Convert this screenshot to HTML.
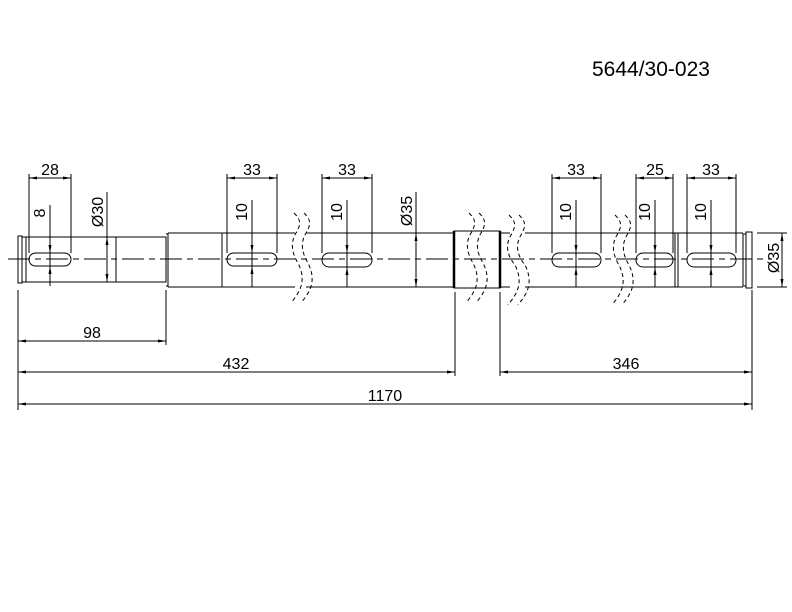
<!DOCTYPE html>
<html><head><style>
body{margin:0;background:#fff}
svg{display:block}
text{font-family:"Liberation Sans",sans-serif;fill:#000}
</style></head><body>
<svg width="792" height="612" viewBox="0 0 792 612" xmlns="http://www.w3.org/2000/svg">
<defs>
<marker id="a" markerWidth="8" markerHeight="4" refX="8" refY="2" orient="auto" markerUnits="userSpaceOnUse"><path d="M0,0.5 L8,2 L0,3.5Z" fill="#000"/></marker>
<marker id="b" markerWidth="8" markerHeight="4" refX="0" refY="2" orient="auto" markerUnits="userSpaceOnUse"><path d="M8,0.5 L0,2 L8,3.5Z" fill="#000"/></marker>
</defs>
<text x="592" y="76" font-size="21">5644/30-023</text>
<g stroke="#000" stroke-width="1" fill="none">
<path d="M8 259H772" stroke-dasharray="22,5,6,5"/>
<rect x="18" y="236" width="4" height="47"/>
<rect x="22" y="237" width="4" height="45"/>
<rect x="26" y="237" width="140" height="45"/>
<path d="M116 237V282"/>
<path d="M166 237V282M166 234h2v52h-2"/>
<path d="M168 233H295M306 233H454M168 287H295M306 287H454M168 233V287M222 233V287"/>
<path d="M500 233H510M525 233H743M500 287H510M525 287H743"/>
<rect x="454" y="231" width="46" height="57"/>
<path d="M454 231V288M500 231V288" stroke-width="2.5"/>
<path d="M675 233V287M678 233V287"/>
<rect x="743" y="234" width="3" height="52"/>
<rect x="746" y="232" width="6" height="56"/>
<rect x="29" y="253" width="42" height="13" rx="6.5"/>
<rect x="227" y="253" width="50" height="13" rx="6.5"/>
<rect x="322" y="253" width="50" height="14" rx="7"/>
<rect x="552" y="253" width="49" height="14" rx="7"/>
<rect x="636" y="253" width="37" height="14" rx="7"/>
<rect x="687" y="253" width="49" height="14" rx="7"/>
<g stroke-dasharray="4,3">
<path d="M294 213c6 6 8 10 2 20c-6 10-4 20 2 30c5 10 6 20 0 30c-2 4-5 7-7 10"/>
<path d="M304 213c6 6 8 10 2 20c-6 10-4 20 2 30c5 10 6 20 0 30c-2 4-5 7-7 10"/>
<path d="M469 213c6 6 8 10 2 20c-6 10-4 20 2 30c5 10 6 20 0 30c-2 4-5 7-7 10"/>
<path d="M479 213c6 6 8 10 2 20c-6 10-4 20 2 30c5 10 6 20 0 30c-2 4-5 7-7 10"/>
<path d="M509 215c6 6 8 10 2 20c-6 10-4 20 4 30c5 10 6 20 0 30c-2 4-5 7-7 10"/>
<path d="M519 215c6 6 8 10 2 20c-6 10-4 20 4 30c5 10 6 20 0 30c-2 4-5 7-7 10"/>
<path d="M615 215c6 6 8 10 2 20c-6 10-4 20 2 30c5 10 6 20 0 30c-2 4-5 7-7 10"/>
<path d="M625 215c6 6 8 10 2 20c-6 10-4 20 2 30c5 10 6 20 0 30c-2 4-5 7-7 10"/>
</g>
<path d="M29 174V253M71 174V253M227 174V253M277 174V253M322 174V253M372 174V253M552 174V253M601 174V253M636 174V253M673 174V253M687 174V253M736 174V253"/>
<g marker-start="url(#b)" marker-end="url(#a)">
<path d="M29 178H71"/><path d="M227 178H277"/><path d="M322 178H372"/>
<path d="M552 178H601"/><path d="M636 178H673"/><path d="M687 178H736"/>
</g>
<path d="M50 205V286M252 200V287M347 200V287M576 200V287M655 200V287M711 200V287"/>
<g>
<path d="M50 245V253" marker-end="url(#a)"/><path d="M50 274V266" marker-end="url(#a)"/>
<path d="M252 245V253" marker-end="url(#a)"/><path d="M252 274V266" marker-end="url(#a)"/>
<path d="M347 245V253" marker-end="url(#a)"/><path d="M347 275V267" marker-end="url(#a)"/>
<path d="M576 245V253" marker-end="url(#a)"/><path d="M576 275V267" marker-end="url(#a)"/>
<path d="M655 245V253" marker-end="url(#a)"/><path d="M655 275V267" marker-end="url(#a)"/>
<path d="M711 245V253" marker-end="url(#a)"/><path d="M711 275V267" marker-end="url(#a)"/>
</g>
<path d="M107 192V282"/><path d="M107 245V237" marker-end="url(#a)"/><path d="M107 274V282" marker-end="url(#a)"/>
<path d="M416 192V287"/><path d="M416 241V233" marker-end="url(#a)"/><path d="M416 279V287" marker-end="url(#a)"/>
<path d="M757 233H787M757 287H787M782 233V287" />
<path d="M782 241V233" marker-end="url(#a)"/><path d="M782 279V287" marker-end="url(#a)"/>
<path d="M18 290V410M166 290V345M455 292V376M500 292V376M752 290V410"/>
<path d="M18 341H166" marker-start="url(#b)" marker-end="url(#a)"/>
<path d="M18 372H455" marker-start="url(#b)" marker-end="url(#a)"/>
<path d="M500 372H752" marker-start="url(#b)" marker-end="url(#a)"/>
<path d="M18 404H752" marker-start="url(#b)" marker-end="url(#a)"/>
</g>
<g font-size="16" text-anchor="middle">
<text x="50" y="175">28</text>
<text x="252" y="175">33</text>
<text x="347" y="175">33</text>
<text x="576" y="175">33</text>
<text x="655" y="175">25</text>
<text x="711" y="175">33</text>
<text x="92" y="338">98</text>
<text x="236" y="369">432</text>
<text x="626" y="369">346</text>
<text x="385" y="401">1170</text>
<text transform="translate(45,213) rotate(-90)">8</text>
<text transform="translate(247,212) rotate(-90)">10</text>
<text transform="translate(342,212) rotate(-90)">10</text>
<text transform="translate(571,212) rotate(-90)">10</text>
<text transform="translate(650,212) rotate(-90)">10</text>
<text transform="translate(706,212) rotate(-90)">10</text>
<text transform="translate(103,212) rotate(-90)">Ø30</text>
<text transform="translate(412,211) rotate(-90)">Ø35</text>
<text transform="translate(779,258) rotate(-90)">Ø35</text>
</g>
</svg>
</body></html>
